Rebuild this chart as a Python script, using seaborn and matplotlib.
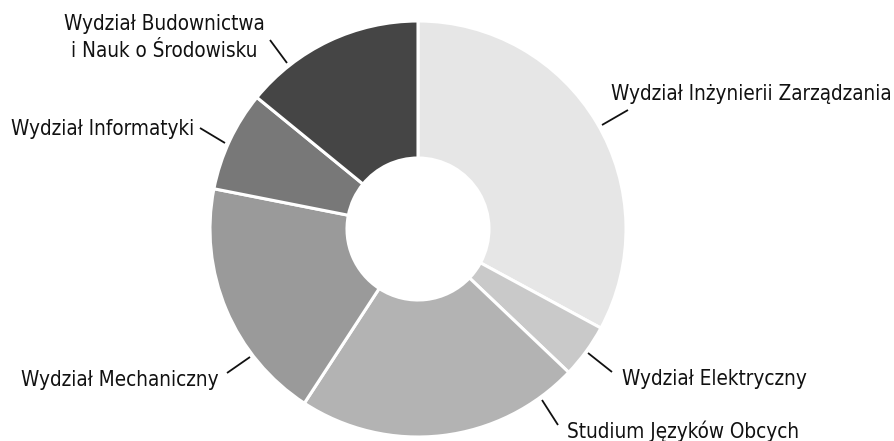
import matplotlib
matplotlib.use("Agg")
import matplotlib.pyplot as plt
import seaborn as sns

# Share of students by faculty (percent), clockwise from 12 o'clock
faculties = [
    "Wydział Inżynierii Zarządzania",
    "Wydział Elektryczny",
    "Studium Języków Obcych",
    "Wydział Mechaniczny",
    "Wydział Informatyki",
    "Wydział Budownictwa\ni Nauk o Środowisku",
]
shares = [32.9, 4.2, 22.1, 18.9, 7.8, 14.1]
slice_colors = ["#e6e6e6", "#c9c9c9", "#b3b3b3", "#9a9a9a", "#787878", "#454545"]

sns.set_theme(style="white")
plt.rcParams["font.family"] = ["DejaVu Sans"]

W, H = 895, 441
fig = plt.figure(figsize=(W / 100, H / 100), dpi=100)
ax = fig.add_axes([0, 0, 1, 1])

cx, cy, R, r_in = 418, H - 229, 208, 71
ax.pie(shares, colors=slice_colors, startangle=90, counterclock=False,
       center=(cx, cy), radius=R, frame=True,
       wedgeprops=dict(width=R - r_in, edgecolor="white", linewidth=2.2))
ax.set_xlim(0, W)
ax.set_ylim(0, H)
ax.set_aspect("equal")
ax.axis("off")

# label text: (x, baseline y in px from top, alignment), leader line endpoints
labels = [
    (611, 100, "left", ((602, 125), (628, 110))),
    (622, 385, "left", ((588, 353), (612, 372))),
    (567, 438, "left", ((542, 400), (558, 425))),
    (219, 386, "right", ((227, 373), (250, 357))),
    (194, 135, "right", ((200, 128), (225, 143))),
    (164, 57, "center", ((270, 40), (287, 63))),
]
fs = 14.85
for name, (x, yb, ha, (p0, p1)) in zip(faculties, labels):
    ax.text(x, H - yb, name, ha=ha, va="baseline", fontsize=fs,
            fontstretch="condensed", color="#111111", linespacing=1.42,
            multialignment="center")
    ax.plot([p0[0], p1[0]], [H - p0[1], H - p1[1]], color="#111111", lw=1.3,
            solid_capstyle="butt")

fig.savefig("out.png", dpi=100, facecolor="white")
